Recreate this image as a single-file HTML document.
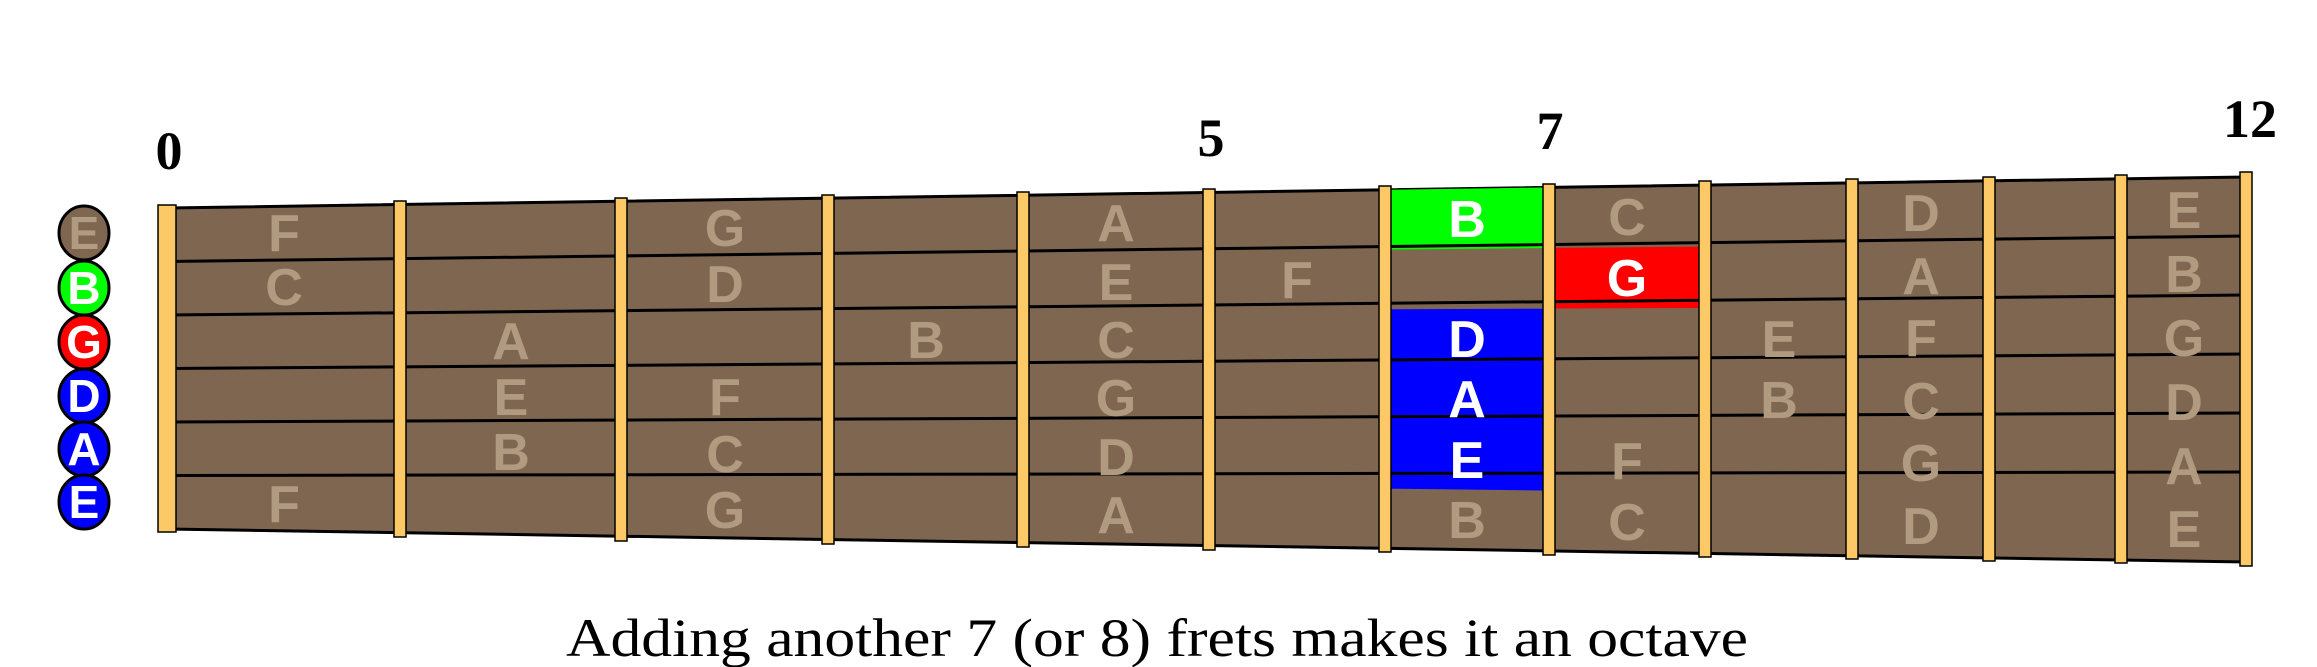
<!DOCTYPE html>
<html><head><meta charset="utf-8"><style>
html,body{margin:0;padding:0;background:#fff;}
svg{display:block;}
.n{font-family:"Liberation Sans",Arial,sans-serif;font-weight:bold;font-size:52px;fill:#b09a80;text-anchor:middle;}
.w{fill:#fff;}
.f{font-family:"Liberation Serif",serif;font-weight:bold;font-size:54px;fill:#000;text-anchor:middle;}
.c{font-family:"Liberation Sans",Arial,sans-serif;font-weight:bold;font-size:46px;text-anchor:middle;}
</style></head><body>
<svg width="2317" height="667" viewBox="0 0 2317 667" xmlns="http://www.w3.org/2000/svg">
<rect width="2317" height="667" fill="#fff"/>
<polygon points="167,208 2246,177 2246,562 167,529" fill="#7f6650" stroke="#000" stroke-width="3"/>
<polygon points="1391,189.7 1543,187.5 1543,248.1 1391,249.5" fill="#00ff00"/>
<polygon points="1391,309.3 1543,308.7 1543,490.5 1391,488.7" fill="#0000ff"/>
<polygon points="1555,247.9 1699,246.6 1699,308.0 1555,308.5" fill="#ff0000"/>
<g stroke="#000" stroke-width="3">
<line x1="167" y1="261.5" x2="2246" y2="236"/>
<line x1="167" y1="315" x2="2246" y2="295"/>
<line x1="167" y1="368.5" x2="2246" y2="354"/>
<line x1="167" y1="422" x2="2246" y2="413"/>
<line x1="167" y1="475.5" x2="2246" y2="472"/>
</g>
<g fill="#fdc966" stroke="#000" stroke-width="1.5">
<rect x="158" y="205" width="18" height="327"/>
<rect x="394" y="201" width="12" height="336"/>
<rect x="615" y="198" width="12" height="343"/>
<rect x="822" y="195" width="12" height="349"/>
<rect x="1017" y="192" width="12" height="355"/>
<rect x="1203" y="189" width="12" height="361"/>
<rect x="1379" y="186" width="12" height="366"/>
<rect x="1543" y="184" width="12" height="371"/>
<rect x="1699" y="181" width="12" height="376"/>
<rect x="1846" y="179" width="12" height="380"/>
<rect x="1983" y="177" width="12" height="384"/>
<rect x="2115" y="175" width="12" height="388"/>
<rect x="2240" y="172" width="12" height="394"/>
</g>
<g transform="translate(0,2)">
<text class="n" x="284" y="249">F</text><text class="n" x="284" y="303">C</text><text class="n" x="284" y="520">F</text>
<text class="n" x="511" y="357">A</text><text class="n" x="511" y="413">E</text><text class="n" x="511" y="468">B</text>
<text class="n" x="725" y="244">G</text><text class="n" x="725" y="300">D</text><text class="n" x="725" y="413">F</text><text class="n" x="725" y="470">C</text><text class="n" x="725" y="526">G</text>
<text class="n" x="926" y="356">B</text>
<text class="n" x="1116" y="239">A</text><text class="n" x="1116" y="298">E</text><text class="n" x="1116" y="356">C</text><text class="n" x="1116" y="414">G</text><text class="n" x="1116" y="473">D</text><text class="n" x="1116" y="531">A</text>
<text class="n" x="1297" y="296">F</text>
<text class="n w" x="1467" y="235">B</text><text class="n w" x="1467" y="355">D</text><text class="n w" x="1467" y="415">A</text><text class="n w" x="1467" y="476">E</text><text class="n" x="1467" y="536">B</text>
<text class="n" x="1627" y="233">C</text><text class="n w" x="1627" y="294">G</text><text class="n" x="1627" y="477">F</text><text class="n" x="1627" y="538">C</text>
<text class="n" x="1779" y="355">E</text><text class="n" x="1779" y="416">B</text>
<text class="n" x="1921" y="229">D</text><text class="n" x="1921" y="292">A</text><text class="n" x="1921" y="354">F</text><text class="n" x="1921" y="417">C</text><text class="n" x="1921" y="479">G</text><text class="n" x="1921" y="542">D</text>
<text class="n" x="2184" y="226">E</text><text class="n" x="2184" y="290">B</text><text class="n" x="2184" y="354">G</text><text class="n" x="2184" y="418">D</text><text class="n" x="2184" y="482">A</text><text class="n" x="2184" y="545">E</text>
</g>
<g stroke="#000" stroke-width="3">
<ellipse cx="84" cy="233" rx="25" ry="27" fill="#7f6650"/>
<ellipse cx="84" cy="288" rx="25" ry="27" fill="#00ff00"/>
<ellipse cx="84" cy="342" rx="25" ry="27" fill="#ff0000"/>
<ellipse cx="84" cy="396" rx="25" ry="27" fill="#0000ff"/>
<ellipse cx="84" cy="449" rx="25" ry="27" fill="#0000ff"/>
<ellipse cx="84" cy="502" rx="25" ry="27" fill="#0000ff"/>
</g>
<text class="c" x="84" y="249" fill="#b09a80">E</text>
<text class="c" x="84" y="304" fill="#fff">B</text>
<text class="c" x="84" y="358" fill="#fff">G</text>
<text class="c" x="84" y="412" fill="#fff">D</text>
<text class="c" x="84" y="465" fill="#fff">A</text>
<text class="c" x="84" y="518" fill="#fff">E</text>
<text class="f" x="169" y="169">0</text>
<text class="f" x="1211" y="156">5</text>
<text class="f" x="1550" y="149">7</text>
<text class="f" x="2250" y="137">12</text>
<text x="566" y="656" font-family="Liberation Serif,serif" font-size="54" textLength="1182" lengthAdjust="spacingAndGlyphs" fill="#000">Adding another 7 (or 8) frets makes it an octave</text>
</svg>
</body></html>
